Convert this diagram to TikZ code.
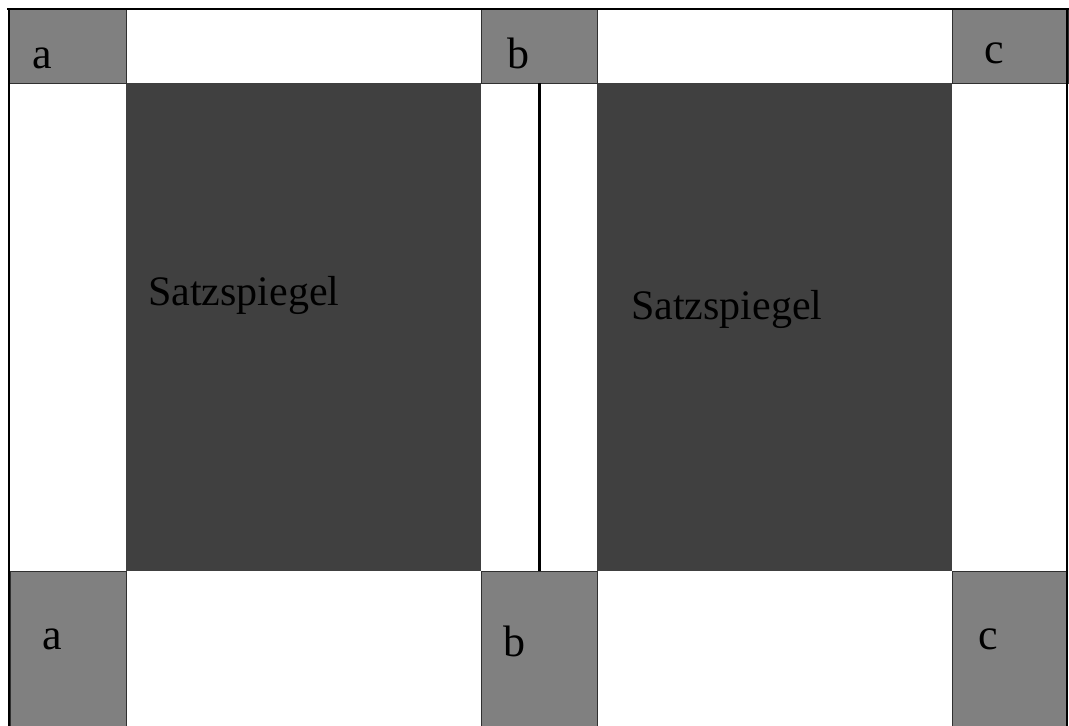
\documentclass[tikz,border=0pt]{standalone}
\usepackage{fontspec}
\setmainfont{Liberation Serif}
\definecolor{marginGray}{HTML}{808080}
\definecolor{blockGray}{HTML}{404040}
\definecolor{edgeGray}{HTML}{303030}
\definecolor{inkBlack}{HTML}{000000}
\begin{document}
\begin{tikzpicture}[x=1pt,y=-1pt,
  margin/.style={fill=marginGray, draw=edgeGray, line width=1pt},
  block/.style={fill=blockGray},
  frame/.style={draw=black},
  letter/.style={font=\fontsize{44}{44}\selectfont, text=inkBlack, anchor=base west, inner sep=0pt},
  caption/.style={font=\fontsize{42}{42}\selectfont, text=inkBlack, anchor=base west, inner sep=0pt}]
  \useasboundingbox (0,0) rectangle (1069,726);
  \fill[white] (0,0) rectangle (1069,726);

  % type areas of the two pages
  \path[block] (126,83) rectangle (481,571);
  \path[block] (597,83) rectangle (952,571);

  % margin corner boxes, top row
  \path[margin] (8,9) rectangle (126,83);
  \path[margin] (481,9) rectangle (597,83);
  \path[margin] (952,9) rectangle (1068,83);
  % margin corner boxes, bottom row
  \path[margin] (10,571) rectangle (126,730);
  \path[margin] (481,571) rectangle (597,730);
  \path[margin] (952,571) rectangle (1067,730);

  % page frame and fold
  \draw[frame, line width=2.5pt] (7,9) -- (1069,9);
  \draw[frame, line width=2pt] (9,9) -- (9,730);
  \draw[frame, line width=1.5pt] (1067,9) -- (1067,730);
  \draw[frame, line width=3pt] (539,83) -- (539,571);

  % labels
  \node[letter] (ta) at (32,68) {a};
  \node[letter] (tb) at (507,68) {b};
  \node[letter] (tc) at (984,63) {c};
  \node[letter] (ba) at (42,649) {a};
  \node[letter] (bb) at (503,656) {b};
  \node[letter] (bc) at (978,649) {c};
  \node[caption] (sl) at (148,305) {Satzspiegel};
  \node[caption] (sr) at (631,319) {Satzspiegel};
\end{tikzpicture}
\end{document}
